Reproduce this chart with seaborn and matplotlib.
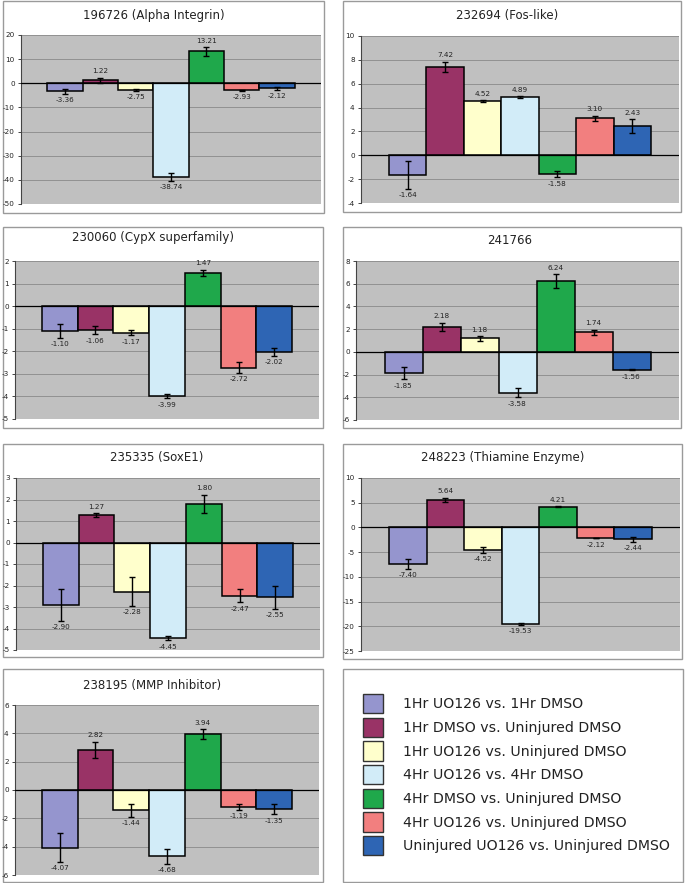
import matplotlib
matplotlib.use("Agg")
import matplotlib.pyplot as plt
from matplotlib.patches import Rectangle, Patch
import seaborn as sns
import numpy as np

# Comparisons (series), same order in every panel
series = [
    "1Hr UO126 vs. 1Hr DMSO",
    "1Hr DMSO vs. Uninjured DMSO",
    "1Hr UO126 vs. Uninjured DMSO",
    "4Hr UO126 vs. 4Hr DMSO",
    "4Hr DMSO vs. Uninjured DMSO",
    "4Hr UO126 vs. Uninjured DMSO",
    "Uninjured UO126 vs. Uninjured DMSO",
]
colors = ["#9595CE", "#993366", "#FFFFCC", "#D2ECF8", "#1FA84B", "#F27F7F", "#2E65B4"]

titles = [
    "196726 (Alpha Integrin)",
    "232694 (Fos-like)",
    "230060 (CypX superfamily)",
    "241766",
    "235335 (SoxE1)",
    "248223 (Thiamine Enzyme)",
    "238195 (MMP Inhibitor)",
]

alpha_integrin = [-3.36, 1.22, -2.75, -38.74, 13.21, -2.93, -2.12]
alpha_integrin_err = [1.0, 1.0, 0.3, 1.6, 1.8, 0.2, 0.6]
fos_like = [-1.64, 7.42, 4.52, 4.89, -1.58, 3.10, 2.43]
fos_like_err = [1.17, 0.43, 0.08, 0.07, 0.26, 0.2, 0.6]
cypx = [-1.10, -1.06, -1.17, -3.99, 1.47, -2.72, -2.02]
cypx_err = [0.3, 0.18, 0.11, 0.1, 0.15, 0.24, 0.17]
g241766 = [-1.85, 2.18, 1.18, -3.58, 6.24, 1.74, -1.56]
g241766_err = [0.56, 0.37, 0.19, 0.43, 0.59, 0.22, 0.05]
soxe1 = [-2.90, 1.27, -2.28, -4.45, 1.80, -2.47, -2.55]
soxe1_err = [0.74, 0.08, 0.66, 0.1, 0.42, 0.31, 0.54]
thiamine = [-7.40, 5.64, -4.52, -19.53, 4.21, -2.12, -2.44]
thiamine_err = [1.0, 0.4, 0.6, 0.15, 0.1, 0.05, 0.45]
mmp = [-4.07, 2.82, -1.44, -4.68, 3.94, -1.19, -1.35]
mmp_err = [1.0, 0.58, 0.44, 0.52, 0.35, 0.19, 0.36]

panel_values = [alpha_integrin, fos_like, cypx, g241766, soxe1, thiamine, mmp]
panel_errors = [alpha_integrin_err, fos_like_err, cypx_err, g241766_err,
                soxe1_err, thiamine_err, mmp_err]
y_ranges = [(-50, 20, 10), (-4, 10, 2), (-5, 2, 1), (-6, 8, 2),
            (-5, 3, 1), (-25, 10, 5), (-6, 6, 2)]

W, H = 685, 883

# pixel layouts: axes (x0, y0, x1, y1), panel box, title centre
axes_px = [(21, 35, 321, 204), (361, 36, 679, 203), (15, 261, 319, 419),
           (356, 261, 679, 420), (16, 478, 320, 650), (361, 478, 680, 651),
           (15, 705, 319, 875)]
box_px = [(3, 1, 324, 213), (343, 1, 681, 212), (3, 227, 323, 428),
          (343, 227, 681, 428), (3, 444, 323, 657), (343, 444, 682, 659),
          (3, 669, 323, 882), (343, 669, 683, 882)]
title_px = [(154, 16), (507, 16), (153, 238), (510, 241), (157, 458),
            (503, 458), (152, 686)]


def fig_rect(x0, y0, x1, y1):
    return [x0 / W, 1 - y1 / H, (x1 - x0) / W, (y1 - y0) / H]


sns.set_style("white")
plt.rcParams["font.family"] = ["DejaVu Sans"]

fig = plt.figure(figsize=(W / 100, H / 100), dpi=100)

for b in box_px:
    x0, y0, x1, y1 = b
    fig.add_artist(Rectangle((x0 / W, 1 - y1 / H), (x1 - x0) / W, (y1 - y0) / H,
                             transform=fig.transFigure, facecolor="white",
                             edgecolor="#9A9A9A", linewidth=1.0, zorder=0))


def draw_panel(i):
    ax = fig.add_axes(fig_rect(*axes_px[i]))
    vals = panel_values[i]
    errs = panel_errors[i]
    lo, hi, step = y_ranges[i]
    ax.set_facecolor("#C0C0C0")
    ticks = np.arange(lo, hi + step / 2, step)
    for t in ticks:
        if t != 0:
            ax.axhline(t, color="#8A8A8A", linewidth=0.6, zorder=0)
    sns.barplot(x=series, y=vals, hue=series, palette=colors, order=series,
                hue_order=series, width=1.0, saturation=1, edgecolor="black",
                linewidth=1.1, legend=False, errorbar=None, ax=ax, zorder=2)
    ax.axhline(0, color="black", linewidth=0.9, zorder=3)
    pos = np.arange(len(vals))
    ax.errorbar(pos, vals, yerr=errs, fmt="none", ecolor="black",
                elinewidth=1.0, capsize=2, capthick=1.0, zorder=4)
    for p, v, e in zip(pos, vals, errs):
        if v >= 0:
            ax.annotate(f"{v:.2f}", (p, v + e), xytext=(0, 2.5),
                        textcoords="offset points", ha="center", va="bottom",
                        fontsize=5.2, color="#222222")
        else:
            ax.annotate(f"{v:.2f}", (p, v - e), xytext=(0, -2.5),
                        textcoords="offset points", ha="center", va="top",
                        fontsize=5.2, color="#222222")
    ax.set_xlim(-1.25, 7.25)
    ax.set_ylim(lo, hi)
    ax.set_yticks(ticks)
    ax.set_yticklabels([f"{int(t)}" for t in ticks], fontsize=5.2, color="#222222")
    ax.tick_params(axis="y", length=2.5, width=0.7, pad=2, color="#444444", left=True)
    ax.set_xticks([])
    ax.set_xlabel("")
    ax.set_ylabel("")
    for s in ["top", "right", "bottom"]:
        ax.spines[s].set_visible(False)
    ax.spines["left"].set_color("#444444")
    ax.spines["left"].set_linewidth(0.8)
    tx, ty = title_px[i]
    fig.text(tx / W, 1 - ty / H, titles[i], ha="center", va="center",
             fontsize=8.5, color="#222222")


for i in range(len(titles)):
    draw_panel(i)

handles = [Patch(facecolor=c, edgecolor="#333333", linewidth=1.0) for c in colors]
fig.legend(handles, series, loc="upper left",
           bbox_to_anchor=(356 / W, 1 - 687 / H), frameon=False,
           fontsize=10.2, handlelength=1.4, handleheight=1.7,
           handletextpad=1.42, labelspacing=0.32, borderpad=0,
           labelcolor="#222222")

fig.savefig("out.png", dpi=100)
